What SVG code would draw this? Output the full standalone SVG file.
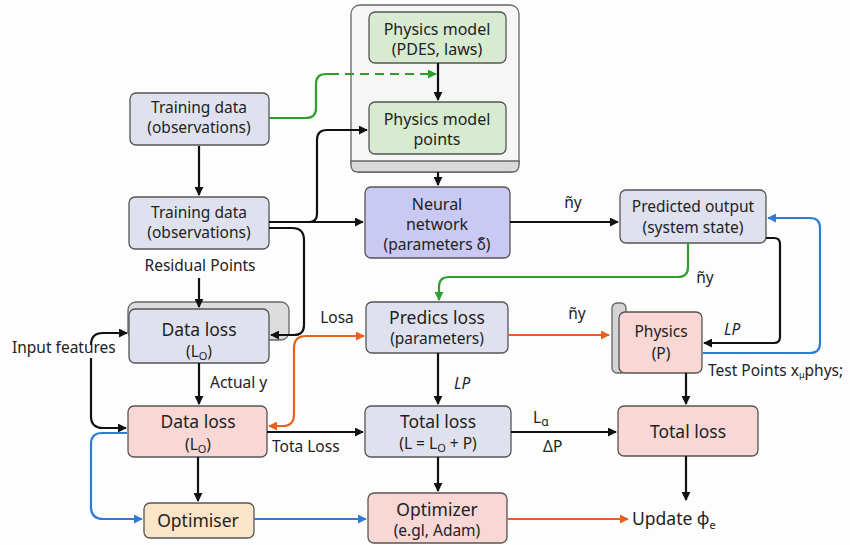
<svg xmlns="http://www.w3.org/2000/svg" width="850" height="545" viewBox="0 0 850 545">
<style>
text{font-family:"Noto Sans","Open Sans","DejaVu Sans",sans-serif;fill:#222;font-size:15.5px}
.c{text-anchor:middle}
.big{font-size:17.5px}
.m{font-size:16px}
.box{stroke:#555;stroke-width:1.3}
.gray{fill:#dfe2ee}
.green{fill:#d7ebd1}
.pink{fill:#f8d7d4}
.purple{fill:#c9c9f3}
.peach{fill:#fbe5c9}
.ln{fill:none;stroke-width:2.2}
.k{stroke:#111}
.g{stroke:#2e9e2e}
.o{stroke:#e8601c}
.b{stroke:#2f7bd8}
</style>
<defs>
<marker id="ak" viewBox="0 0 10 10" refX="9" refY="5" markerWidth="9" markerHeight="9" markerUnits="userSpaceOnUse" orient="auto-start-reverse"><path d="M0,0 L10,5 L0,10 z" fill="#111"/></marker>
<marker id="ag" viewBox="0 0 10 10" refX="9" refY="5" markerWidth="9" markerHeight="9" markerUnits="userSpaceOnUse" orient="auto-start-reverse"><path d="M0,0 L10,5 L0,10 z" fill="#2e9e2e"/></marker>
<marker id="ao" viewBox="0 0 10 10" refX="9" refY="5" markerWidth="9" markerHeight="9" markerUnits="userSpaceOnUse" orient="auto-start-reverse"><path d="M0,0 L10,5 L0,10 z" fill="#e8601c"/></marker>
<marker id="ab" viewBox="0 0 10 10" refX="9" refY="5" markerWidth="9" markerHeight="9" markerUnits="userSpaceOnUse" orient="auto-start-reverse"><path d="M0,0 L10,5 L0,10 z" fill="#2f7bd8"/></marker>
</defs>
<rect width="850" height="545" fill="#fdfdfd"/>

<g id="physics-container">
<rect x="351" y="5" width="168" height="167" rx="9" fill="#f6f6f6" stroke="#666" stroke-width="1.3"/>
<path d="M351,161 H519 V165 Q519,172 512,172 H358 Q351,172 351,165 Z" fill="#d9d9d9" stroke="#666" stroke-width="1.3"/>
</g>
<g id="physics-model">
<rect class="box green" x="369" y="12" width="137" height="51" rx="6"/>
<text class="c m" x="437" y="35">Physics model</text>
<text class="c m" x="437" y="55">(PDES, laws)</text>
</g>
<g id="physics-model-points">
<rect class="box green" x="369" y="102" width="137" height="52" rx="6"/>
<text class="c m" x="437" y="125">Physics model</text>
<text class="c m" x="437" y="145">points</text>
</g>
<g id="training-data-1">
<rect class="box gray" x="130" y="93" width="139" height="52" rx="6"/>
<text class="c" x="199" y="113">Training data</text>
<text class="c" x="199" y="133">(observations)</text>
</g>
<g id="training-data-2">
<rect class="box gray" x="129" y="197" width="140" height="52" rx="6"/>
<text class="c" x="199" y="218">Training data</text>
<text class="c" x="199" y="238">(observations)</text>
</g>
<g id="data-loss-top">
<rect x="128" y="302" width="161" height="38" rx="8" fill="#dcdcdc" stroke="#666" stroke-width="1.3"/>
<rect class="box gray" x="129" y="309" width="140" height="54" rx="6"/>
<text class="c big" x="199" y="336">Data loss</text>
<text class="c" x="199" y="357">(L<tspan font-size="11" dy="3">O</tspan><tspan dy="-3">)</tspan></text>
</g>
<g id="neural-network">
<rect class="box purple" x="365" y="187" width="145" height="71" rx="6"/>
<text class="c m" x="437" y="210">Neural</text>
<text class="c m" x="437" y="230">network</text>
<text class="c" x="437" y="250">(parameters δ̃)</text>
</g>
<g id="predicted-output">
<rect class="box gray" x="620" y="190" width="146" height="53" rx="6"/>
<text class="c" x="693" y="212">Predicted output</text>
<text class="c" x="693" y="233">(system state)</text>
</g>
<g id="predics-loss">
<rect class="box gray" x="366" y="302" width="142" height="51" rx="6"/>
<text class="c big" x="437" y="324">Predics loss</text>
<text class="c" x="437" y="344">(parameters)</text>
</g>
<g id="physics-p">
<rect x="612" y="303" width="14" height="70" rx="5" fill="#d4d4d4" stroke="#666" stroke-width="1.3"/>
<rect class="box pink" x="619" y="312" width="83" height="61" rx="6"/>
<text class="c" x="661" y="337" font-size="16.5">Physics</text>
<text class="c" x="661" y="359" font-size="16.5">(P)</text>
</g>
<g id="data-loss-pink">
<rect class="box pink" x="128" y="406" width="139" height="51" rx="6"/>
<text class="c big" x="198" y="428">Data loss</text>
<text class="c" x="198" y="450">(L<tspan font-size="11" dy="3">O</tspan><tspan dy="-3">)</tspan></text>
</g>
<g id="total-loss-center">
<rect class="box gray" x="365" y="406" width="146" height="51" rx="6"/>
<text class="c big" x="438" y="428">Total loss</text>
<text class="c" x="438" y="449">(L = L<tspan font-size="11" dy="3">O</tspan><tspan dy="-3"> + P)</tspan></text>
</g>
<g id="total-loss-right">
<rect class="box pink" x="618" y="406" width="140" height="50" rx="6"/>
<text class="c big" x="688" y="438">Total loss</text>
</g>
<g id="optimiser">
<rect class="box peach" x="144" y="503" width="110" height="35" rx="6"/>
<text class="c big" x="198" y="527">Optimiser</text>
</g>
<g id="optimizer">
<rect class="box pink" x="368" y="493" width="139" height="50" rx="6"/>
<text class="c big" x="437" y="516">Optimizer</text>
<text class="c" x="437" y="536">(e.gl, Adam)</text>
</g>
<g id="update">
<text class="big" x="632" y="525">Update ϕ<tspan font-size="11" dy="4">e</tspan></text>
</g>

<g id="connectors">
<path class="ln g" d="M269,118 H306 Q316,118 316,108 V84 Q316,74 326,74 H330"/>
<path class="ln g" d="M330,74 H436" stroke-dasharray="9,6" marker-end="url(#ag)"/>
<path class="ln k" d="M438,63 V100" marker-end="url(#ak)"/>
<path class="ln k" d="M199,146 V195" marker-end="url(#ak)"/>
<path class="ln k" d="M269,222 H363" marker-end="url(#ak)"/>
<path class="ln k" d="M269,222 H309 Q317,222 317,214 V140 Q317,130 327,130 H367" marker-end="url(#ak)"/>
<path class="ln k" d="M269,228 H292 Q304,228 304,240 V325 Q304,335 294,335 H271" marker-end="url(#ak)"/>
<path class="ln k" d="M438,172 V185" marker-end="url(#ak)"/>
<path class="ln k" d="M199,278 V307" marker-end="url(#ak)"/>
<path class="ln k" d="M91,345 Q91,333 103,333 H127" marker-end="url(#ak)"/>
<path class="ln k" d="M91,358 V416 Q91,428 103,428 H126" marker-end="url(#ak)"/>
<path class="ln k" d="M199,363 V404" marker-end="url(#ak)"/>
<path class="ln o" d="M269,426 H283 Q294,426 294,414 V348 Q294,336 306,336 H364" marker-start="url(#ao)" marker-end="url(#ao)"/>
<path class="ln k" d="M267,432 H363" marker-end="url(#ak)"/>
<path class="ln k" d="M198,457 V501" marker-end="url(#ak)"/>
<path class="ln b" d="M127,433 H102 Q91,433 91,444 V507 Q91,519 103,519 H142" marker-end="url(#ab)"/>
<path class="ln b" d="M254,519 H366" marker-end="url(#ab)"/>
<path class="ln o" d="M507,519 H628" marker-end="url(#ao)"/>
<path class="ln k" d="M510,222 H618" marker-end="url(#ak)"/>
<path class="ln g" d="M688,243 V267 Q688,277 678,277 H449 Q439,277 439,287 V300" marker-end="url(#ag)"/>
<path class="ln o" d="M508,335 H609" marker-end="url(#ao)"/>
<path class="ln k" d="M766,238 H774 Q780,238 780,244 V337 Q780,343 774,343 H704" marker-end="url(#ak)"/>
<path class="ln b" d="M703,353 H810 Q820,353 820,343 V228 Q820,218 810,218 H768" marker-end="url(#ab)"/>
<path class="ln k" d="M438,353 V404" marker-end="url(#ak)"/>
<path class="ln k" d="M511,432 H616" marker-end="url(#ak)"/>
<path class="ln k" d="M686,373 V404" marker-end="url(#ak)"/>
<path class="ln k" d="M686,456 V500" marker-end="url(#ak)"/>
<path class="ln k" d="M438,457 V491" marker-end="url(#ak)"/>
</g>

<g id="labels">
<text class="c" x="200" y="271">Residual Points</text>
<text x="12" y="353">Input features</text>
<text x="210" y="388">Actual y</text>
<text class="c" x="337" y="323">Losa</text>
<text x="272" y="452">Tota Loss</text>
<text class="c" x="573" y="208">ñy</text>
<text class="c" x="705" y="283">ñy</text>
<text class="c" x="577" y="319">ñy</text>
<text x="724" y="335" font-style="italic">LP</text>
<text x="454" y="389" font-style="italic">LP</text>
<text x="708" y="376">Test Points x<tspan font-size="9" dy="2">μ</tspan><tspan dy="-2">phys;</tspan></text>
<text x="533" y="423">L<tspan font-size="12" dy="3">α</tspan></text>
<text x="543" y="452">ΔP</text>
</g>
</svg>
